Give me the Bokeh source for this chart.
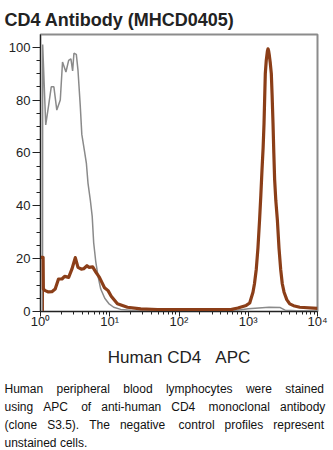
from bokeh.plotting import figure
from bokeh.models import Range1d, FixedTicker, Title
from bokeh.embed import file_html
from bokeh.resources import INLINE

# ---------------- data ----------------
control_x = [1.07, 1.075, 1.19, 1.31, 1.43, 1.56, 1.72, 1.93, 2.08, 2.33, 2.55, 2.75, 2.91,
             3.04, 3.29, 3.48, 3.76, 3.95, 4.3, 4.6, 4.85, 5.25, 5.58, 5.86, 6.27, 6.81,
             7.41, 8.47, 9.68, 11.4, 14.4, 20, 50, 200, 700, 1000, 2000, 2900, 3400, 5000, 10000]
control_y = [0, 101, 70.6, 78, 85, 85, 76.2, 80, 94.4, 90.6, 95, 95.6, 91,
             97.7, 97.3, 91.2, 77.4, 67, 61, 56, 48.6, 42, 36, 26, 19, 13,
             8.5, 5, 3, 1.6, 0.8, 0.5, 0.4, 0.3, 0.5, 1.0, 1.6, 1.5, 0.5, 0.3, 0.3]

cd4_x = [1.0, 1.09, 1.10, 1.17, 1.3, 1.46, 1.63, 1.82, 2.04, 2.23, 2.55, 2.84, 3.18, 3.48,
         3.89, 4.2, 4.69, 5.0, 5.67, 6.33, 7.1, 8.4, 9.46, 10.5, 12.9, 18, 28, 49, 560,
         708, 935, 1050, 1170, 1230, 1306, 1380, 1458, 1520, 1580, 1640, 1690, 1763, 1820,
         1890, 1928, 1970, 2013, 2080, 2153, 2210, 2278, 2340, 2404, 2500, 2631, 2780,
         2938, 3100, 3290, 3600, 3971, 4500, 5538, 10000]
cd4_y = [20.5, 20.5, 8.5, 7.9, 7.4, 7.5, 8.5, 12.3, 12.3, 13.3, 12.9, 16, 20.4, 16.7,
         16, 16.2, 17.3, 16.7, 16.9, 14.8, 12.9, 9, 7.9, 5.8, 2.9, 1.6, 1.0, 0.75, 0.7,
         1.3, 2.3, 3.2, 7.3, 10.5, 16, 24, 34.8, 44, 53.6, 62, 71.2, 90, 95,
         98.5, 99.4, 98.6, 97, 94, 90, 82, 71.2, 60, 50, 42, 34.8, 24,
         16, 10.5, 7.3, 4.5, 2.9, 2.2, 1.6, 1.2]

cd4_edge_x = [1.1, 1.1]
cd4_edge_y = [0, 8.5]

y_ticks = [0, 20, 40, 60, 80, 100]
y_minor = list(range(0, 105, 5))
x_ticks = [1, 10, 100, 1000, 10000]
x_tick_labels = ["10\u2070", "10\u00b9", "10\u00b2", "10\u00b3", "10\u2074"]

title_text = "CD4 Antibody (MHCD0405)"
x_label = "Human CD4\u00a0\u00a0\u00a0APC"
caption = [
    ["Human", "peripheral", "blood", "lymphocytes", "were", "stained"],
    ["using", "APC", "of", "anti-human", "CD4", "monoclonal", "antibody"],
    ["(clone", "S3.5).", "The", "negative", "control", "profiles", "represent"],
    ["unstained", "cells."],
]

# ---------------- figure ----------------
FONT = "Liberation Sans"
BL = 40
p = figure(width=333, height=450, x_axis_type="log",
           x_range=Range1d(1, 10000), y_range=Range1d(0, 104.8),
           output_backend="svg", toolbar_location=None,
           min_border_left=BL, min_border_right=16, min_border_top=34, min_border_bottom=137)
p.background_fill_color = "white"
p.border_fill_color = "white"
p.grid.visible = False
p.outline_line_color = "#8c8c8c"
p.outline_line_width = 2

p.title.text = title_text
p.title.text_font = FONT
p.title.text_font_size = "18px"
p.title.text_font_style = "bold"
p.title.text_color = "#222222"
p.title.align = "left"
p.title.offset = 4 - BL
p.title.standoff = 10

p.line(control_x, control_y, line_color="#8a8a8a", line_width=1.5)
p.line(cd4_edge_x, cd4_edge_y, line_color="#8b3e18", line_width=1.2)
p.line(cd4_x, cd4_y, line_color="#8b3e18", line_width=3.2, line_join="round")

minor_x = [m * 10 ** k for k in range(0, 4) for m in range(2, 10)]
p.xaxis.ticker = FixedTicker(ticks=x_ticks, minor_ticks=minor_x)
p.xaxis.major_label_overrides = {t: s for t, s in zip(x_ticks, x_tick_labels)}
p.yaxis.ticker = FixedTicker(ticks=y_ticks, minor_ticks=y_minor)

for ax in (p.xaxis[0], p.yaxis[0]):
    ax.axis_line_color = "#222222"
    ax.axis_line_width = 1
    ax.major_tick_line_color = "#222222"
    ax.minor_tick_line_color = "#222222"
    ax.major_tick_in = 0
    ax.minor_tick_in = 0
    ax.major_label_text_font = FONT
    ax.major_label_text_font_size = "13px"
    ax.major_label_text_color = "#222222"

p.yaxis.major_tick_out = 8
p.yaxis.minor_tick_out = 4
p.yaxis.major_label_standoff = 2
p.xaxis.major_tick_out = 5
p.xaxis.minor_tick_out = 3
p.xaxis.major_label_standoff = -3

p.xaxis.axis_label = x_label
p.xaxis.axis_label_text_font = FONT
p.xaxis.axis_label_text_font_size = "17px"
p.xaxis.axis_label_text_font_style = "normal"
p.xaxis.axis_label_text_color = "#222222"
p.xaxis.axis_label_standoff = 16

# spacer between the axis label and the caption block
p.add_layout(Title(text="\u00a0", text_font_size="1px", standoff=5.5), "below")

# caption: one title line per text line, word gaps widened to justify the block
gaps = [
    [4, 4, 4, 4, 4],
    [3, 4, 3, 3, 4, 3],
    [3, 3, 3, 4, 3, 3],
    [1],
]
for words, g in zip(caption, gaps):
    line = words[0]
    for w, n in zip(words[1:], g):
        line += "\u00a0" * n + w
    p.add_layout(Title(text=line, align="left", offset=4 - BL,
                       text_font=FONT, text_font_size="12px", text_font_style="normal",
                       text_color="#111111", standoff=2), "below")

open("out.html", "w").write(file_html(p, INLINE))
